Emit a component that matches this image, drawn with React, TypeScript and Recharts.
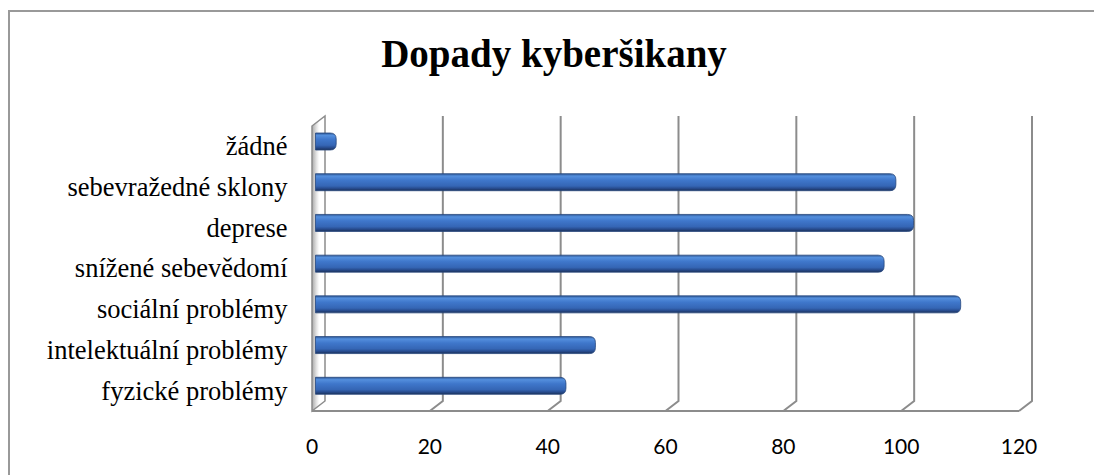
import { BarChart, Bar, XAxis, YAxis, CartesianGrid } from 'recharts';

const categories = [
  'žádné',
  'sebevražedné sklony',
  'deprese',
  'snížené sebevědomí',
  'sociální problémy',
  'intelektuální problémy',
  'fyzické problémy',
];
const values = [3, 98, 101, 96, 109, 47, 42];
const xTicks = [0, 20, 40, 60, 80, 100, 120];

const data = categories.map((name, i) => ({ name, value: values[i] }));

// fake 3d depth: back wall is up/right, front floor edge is down/left
const DX = 6.5;
const DY = 5;
const GRID = '#8c8c8c';

function GridLine(props: any) {
  const { x1, y1, y2, index, x, y, width, height } = props;
  const bx = x1 + DX;
  const fx = x1 - DX;
  const top = y1 - DY;
  const bottom = y2 - DY;
  if (index === 0) {
    return (
      <g>
        <defs>
          <linearGradient id="wallFill" x1="0" y1="0" x2="1" y2="0">
            <stop offset="0%" stopColor="#a9a9a9" />
            <stop offset="35%" stopColor="#e4e4e4" />
            <stop offset="55%" stopColor="#ffffff" />
            <stop offset="100%" stopColor="#ffffff" />
          </linearGradient>
        </defs>
        <polygon
          points={`${fx},${top + 2 * DY} ${bx},${top} ${bx},${bottom} ${fx},${bottom + 2 * DY}`}
          fill="url(#wallFill)"
          stroke={GRID}
          strokeWidth={1.5}
        />
        <line x1={fx} y1={y + height + DY} x2={x + width - DX} y2={y + height + DY} stroke={GRID} strokeWidth={2} />
      </g>
    );
  }
  return (
    <path
      d={`M${bx},${top} L${bx},${bottom} L${fx},${bottom + 2 * DY}`}
      fill="none"
      stroke={GRID}
      strokeWidth={2}
    />
  );
}

function CylinderBar(props: any) {
  const { x, y, width, height, index } = props;
  if (!width || width <= 0) return null;
  const x0 = x - 3;
  const w = width + 3;
  const r = Math.min(6, w / 2);
  const id = `barGrad${index}`;
  const d = `M${x0},${y} H${x0 + w - r} Q${x0 + w},${y} ${x0 + w},${y + r} V${y + height - r} Q${x0 + w},${y + height} ${x0 + w - r},${y + height} H${x0} Z`;
  return (
    <g>
      <defs>
        <linearGradient id={id} x1="0" y1="0" x2="0" y2="1">
          <stop offset="0%" stopColor="#2d5796" />
          <stop offset="14%" stopColor="#548fdd" />
          <stop offset="38%" stopColor="#3f77cb" />
          <stop offset="72%" stopColor="#3566b5" />
          <stop offset="88%" stopColor="#26498a" />
          <stop offset="100%" stopColor="#1b3158" />
        </linearGradient>
      </defs>
      <path d={d} fill={`url(#${id})`} stroke="#27487e" strokeWidth={0.8} />
    </g>
  );
}

function XTick(props: any) {
  const { x, y, payload } = props;
  return (
    <text x={x - DX} y={y + 48} textAnchor="middle" fontFamily="Lato, 'Open Sans', sans-serif" fontSize={21} fill="#000">
      {payload.value}
    </text>
  );
}

function YTick(props: any) {
  const { x, y, payload } = props;
  return (
    <text x={x - 31} y={y + 4.5} dy="0.355em" textAnchor="end" fontFamily="Liberation Serif, Times New Roman, serif" fontSize={26.5} fill="#000">
      {payload.value}
    </text>
  );
}

export default function App() {
  return (
    <div style={{ position: 'absolute', left: 0, top: 0, width: 1094, height: 475, overflow: 'hidden', background: '#fff' }}>
      <div
        style={{
          position: 'absolute', left: 8, top: 10, width: 1200, height: 600,
          border: '2px solid #999', boxSizing: 'border-box',
        }}
      />
      <div
        style={{
          position: 'absolute', left: 0, top: 35, width: 1108, textAlign: 'center',
          fontFamily: "'Liberation Serif', 'Times New Roman', serif", fontWeight: 'bold',
          fontSize: 39, lineHeight: '38px', color: '#000',
        }}
      >
        Dopady kyberšikany
      </div>
      <div style={{ position: 'absolute', left: 0, top: 0 }}>
        <BarChart
          width={1094}
          height={475}
          data={data}
          layout="vertical"
          margin={{ top: 121, right: 68.5, bottom: 0, left: 0 }}
          barSize={17}
        >
          <CartesianGrid horizontal={false} vertical={GridLine} />
          <XAxis
            type="number"
            domain={[0, 120]}
            ticks={xTicks}
            height={69}
            axisLine={false}
            tickLine={false}
            tickSize={0}
            tickMargin={0}
            tick={XTick}
            interval={0}
          />
          <YAxis
            type="category"
            dataKey="name"
            width={318.5}
            axisLine={false}
            tickLine={false}
            tickSize={0}
            tickMargin={0}
            tick={YTick}
            interval={0}
          />
          <Bar dataKey="value" shape={CylinderBar} isAnimationActive={false} />
        </BarChart>
      </div>
    </div>
  );
}
